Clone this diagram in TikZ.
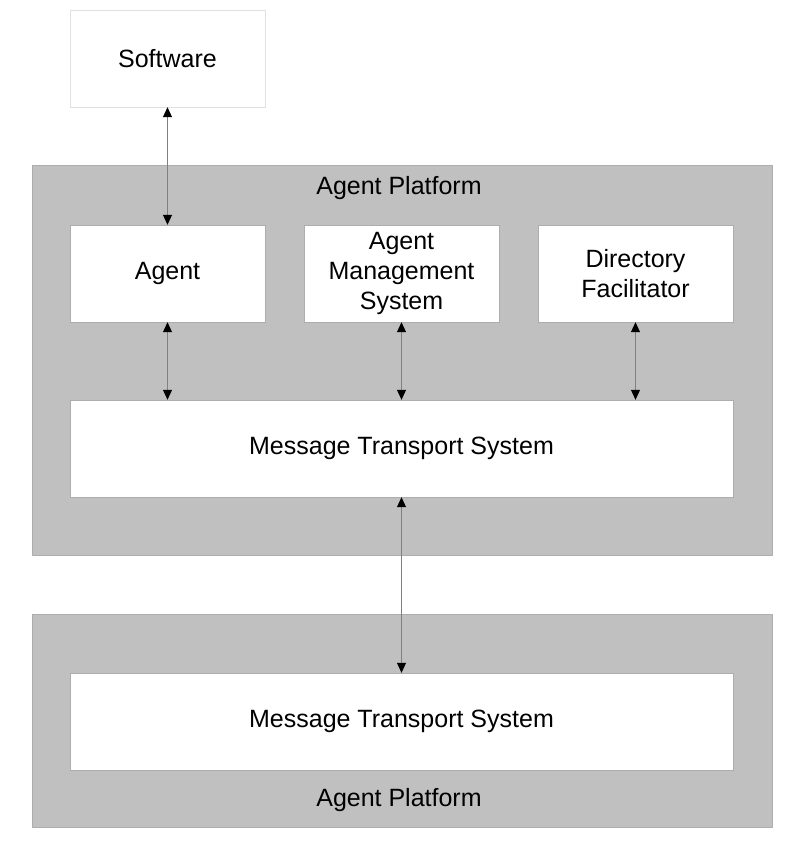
\documentclass[tikz,border=0pt]{standalone}
\usepackage{fontspec}
\setmainfont{Liberation Sans}
\usetikzlibrary{arrows.meta}
\definecolor{platgray}{HTML}{C0C0C0}
\definecolor{edgegray}{HTML}{ADADAD}
\begin{document}
\begin{tikzpicture}[x=1pt, y=-1pt, line join=round, >={Triangle[length=10pt,width=9pt,color=black]},
	font=\fontsize{25}{30}\selectfont,
	platform/.style={draw=edgegray, fill=platgray, minimum width=740pt, inner sep=0pt},
	unit/.style={draw=edgegray, fill=white, minimum width=195pt, minimum height=97pt, align=center, inner sep=0pt},
	link/.style={<->, draw=gray, line width=0.8pt}]
	\useasboundingbox (0,0) rectangle (807,849);
	% platforms
	\node[platform, minimum height=390pt] (plat1) at (402,360) {};
	\node[platform, minimum height=213pt] (plat2) at (402,720.5) {};
	\node (plat1name) at (399,188) {Agent Platform};
	\node (plat2name) at (399,800) {Agent Platform};
	% boxes
	\node[unit, draw=black!12] (sw) at (167.5,58.5) {Software};
	\node[unit] (agent) at (167.5,273.5) {Agent};
	\node[unit] (ams) at (401.5,273.5) {Agent\\Management\\System};
	\node[unit] (df) at (635.5,273.5) {Directory\\Facilitator};
	\node[unit, minimum width=663pt] (mts) at (401.5,448.5) {Message Transport System};
	\node[unit, minimum width=663pt] (mts2) at (401.5,721.5) {Message Transport System};
	% links
	\draw[link] (sw.south) -- (agent.north);
	\draw[link] (agent.south) -- (agent.south |- mts.north);
	\draw[link] (ams.south) -- (ams.south |- mts.north);
	\draw[link] (df.south) -- (df.south |- mts.north);
	\draw[link] (mts.south) -- (mts2.north);
\end{tikzpicture}
\end{document}
